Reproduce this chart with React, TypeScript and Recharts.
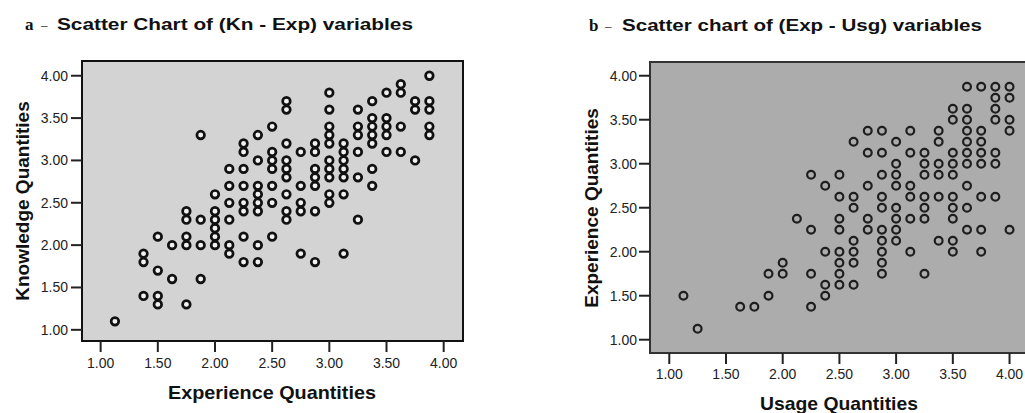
import React from 'react';
import { ScatterChart, Scatter, XAxis, YAxis, CartesianGrid, ReferenceArea } from 'recharts';

const axisTicks = [1, 1.5, 2, 2.5, 3, 3.5, 4];

// panel a: experience (x) -> knowledge values (y)
const expLevels = [1.125, 1.375, 1.5, 1.625, 1.75, 1.875, 2, 2.125, 2.25, 2.375, 2.5, 2.625, 2.75, 2.875, 3, 3.125, 3.25, 3.375, 3.5, 3.625, 3.75, 3.875];
const knowledgeAtExp = [
  [1.1],
  [1.9, 1.8, 1.4],
  [2.1, 1.7, 1.4, 1.3],
  [2.0, 1.6],
  [2.4, 2.3, 2.1, 2.0, 1.3],
  [3.3, 2.3, 2.0, 1.6],
  [2.6, 2.4, 2.3, 2.2, 2.1, 2.0],
  [2.9, 2.7, 2.5, 2.3, 2.0, 1.9],
  [3.2, 3.1, 2.9, 2.7, 2.5, 2.4, 2.1, 1.8],
  [3.3, 3.0, 2.7, 2.6, 2.5, 2.4, 2.0, 1.8],
  [3.4, 3.1, 3.0, 2.9, 2.7, 2.5, 2.1],
  [3.7, 3.6, 3.2, 3.0, 2.9, 2.8, 2.6, 2.4, 2.3],
  [3.1, 2.7, 2.5, 2.4, 1.9],
  [3.2, 3.1, 2.9, 2.8, 2.7, 2.4, 1.8],
  [3.8, 3.6, 3.4, 3.3, 3.2, 3.0, 2.9, 2.8, 2.6, 2.5],
  [3.2, 3.1, 3.0, 2.9, 2.8, 2.6, 1.9],
  [3.6, 3.4, 3.3, 3.1, 2.8, 2.3],
  [3.7, 3.5, 3.4, 3.3, 3.2, 2.9, 2.7],
  [3.8, 3.5, 3.4, 3.3, 3.1],
  [3.9, 3.8, 3.4, 3.1],
  [3.7, 3.6, 3.0],
  [4.0, 3.7, 3.6, 3.4, 3.3],
];

// panel b: usage (x) -> experience values (y)
const usageLevels = [1.125, 1.25, 1.625, 1.75, 1.875, 2, 2.125, 2.25, 2.375, 2.5, 2.625, 2.75, 2.875, 3, 3.125, 3.25, 3.375, 3.5, 3.625, 3.75, 3.875, 4];
const experienceAtUsage = [
  [1.5],
  [1.125],
  [1.375],
  [1.375],
  [1.75, 1.5],
  [1.875, 1.75],
  [2.375],
  [2.875, 2.25, 1.75, 1.375],
  [2.75, 2.0, 1.625, 1.5],
  [2.875, 2.625, 2.375, 2.25, 2.0, 1.875, 1.75, 1.625],
  [3.25, 2.625, 2.5, 2.125, 2.0, 1.875, 1.625],
  [3.375, 3.125, 2.75, 2.375, 2.25],
  [3.375, 3.125, 2.875, 2.625, 2.5, 2.25, 2.125, 2.0, 1.875, 1.75],
  [3.25, 3.0, 2.875, 2.75, 2.5, 2.375, 2.25, 2.125],
  [3.375, 3.125, 2.75, 2.625, 2.375, 2.0],
  [3.125, 3.0, 2.875, 2.625, 2.5, 2.375, 1.75],
  [3.375, 3.25, 3.0, 2.875, 2.625, 2.125],
  [3.625, 3.5, 3.125, 3.0, 2.875, 2.625, 2.5, 2.375, 2.125, 2.0],
  [3.875, 3.625, 3.5, 3.375, 3.25, 3.125, 3.0, 2.75, 2.5, 2.25],
  [3.875, 3.375, 3.25, 3.125, 3.0, 2.625, 2.25, 2.0],
  [3.875, 3.75, 3.625, 3.5, 3.125, 3.0, 2.625],
  [3.875, 3.75, 3.5, 3.375, 2.25],
];

const toPoints = (xs: number[], ys: number[][]) =>
  xs.flatMap((x, i) => ys[i].map((y) => ({ x, y })));

const sans = '"Liberation Sans", Arial, sans-serif';
const serif = '"Liberation Serif", "Times New Roman", serif';

interface PanelProps {
  data: { x: number; y: number }[];
  left: number;
  width: number;
  margin: { top: number; right: number; bottom: number; left: number };
  xDomain: [number, number];
  yDomain: [number, number];
  plotFill: string;
  frame: string;
  ring: { r: number; stroke: string; strokeWidth: number; fill: string };
  xTickMargin: number;
  yTickMargin: number;
}

function Panel({ data, left, width, margin, xDomain, yDomain, plotFill, frame, ring, xTickMargin, yTickMargin }: PanelProps) {
  const tick = { fontSize: 14, fill: '#222', fontFamily: sans };
  return (
    <div style={{ position: 'absolute', left, top: 0 }}>
      <ScatterChart width={width} height={413} margin={margin}>
        <CartesianGrid horizontal={false} vertical={false} fill={plotFill} fillOpacity={1} />
        <XAxis
          type="number"
          dataKey="x"
          domain={xDomain}
          ticks={axisTicks}
          interval={0}
          allowDataOverflow
          height={30}
          axisLine={false}
          tickSize={11}
          tickMargin={xTickMargin}
          tickLine={{ stroke: '#222', strokeWidth: 2 }}
          tick={tick}
          tickFormatter={(v: number) => v.toFixed(2)}
        />
        <YAxis
          type="number"
          dataKey="y"
          domain={yDomain}
          ticks={axisTicks}
          interval={0}
          allowDataOverflow
          width={60}
          axisLine={false}
          tickSize={11}
          tickMargin={yTickMargin}
          tickLine={{ stroke: '#222', strokeWidth: 2 }}
          tick={tick}
          tickFormatter={(v: number) => v.toFixed(2)}
        />
        <ReferenceArea
          x1={xDomain[0]}
          x2={xDomain[1]}
          y1={yDomain[0]}
          y2={yDomain[1]}
          fill="none"
          stroke={frame}
          strokeWidth={2}
        />
        <Scatter
          data={data}
          isAnimationActive={false}
          shape={(p: any) => (
            <circle cx={p.cx} cy={p.cy} r={ring.r} fill={ring.fill} stroke={ring.stroke} strokeWidth={ring.strokeWidth} />
          )}
        />
      </ScatterChart>
    </div>
  );
}

export default function App() {
  const axisTitle = { fontFamily: sans, fontWeight: 'bold', fontSize: 19, fill: '#111' } as const;
  return (
    <div style={{ position: 'absolute', left: 0, top: 0, width: 1025, height: 413, overflow: 'hidden', background: '#fff' }}>
      <Panel
        data={toPoints(expLevels, knowledgeAtExp)}
        left={0}
        width={470}
        margin={{ top: 61, right: 7, bottom: 42, left: 22 }}
        xDomain={[0.837, 4.169]}
        yDomain={[0.868, 4.174]}
        plotFill="#d3d3d3"
        frame="#111"
        ring={{ r: 3.8, stroke: '#111', strokeWidth: 2.7, fill: '#f2f2f2' }}
        xTickMargin={6}
        yTickMargin={3}
      />
      <Panel
        data={toPoints(usageLevels, experienceAtUsage)}
        left={520}
        width={510}
        margin={{ top: 62, right: 3, bottom: 30, left: 70 }}
        xDomain={[0.83, 4.154]}
        yDomain={[0.849, 4.156]}
        plotFill="#acacac"
        frame="#333"
        ring={{ r: 3.9, stroke: '#1e1e1e', strokeWidth: 2.2, fill: 'none' }}
        xTickMargin={5}
        yTickMargin={2}
      />
      <svg width={1025} height={413} style={{ position: 'absolute', left: 0, top: 0, pointerEvents: 'none' }}>
        <text x={25} y={30} fontFamily={serif} fontWeight="bold" fontSize={17} fill="#111">a</text>
        <text x={41} y={29} fontFamily={serif} fontSize={13} fill="#111">–</text>
        <text x={57} y={30} fontFamily={sans} fontWeight="bold" fontSize={16.5} fill="#111" textLength={356} lengthAdjust="spacingAndGlyphs">
          Scatter Chart of (Kn - Exp) variables
        </text>
        <text x={589} y={31} fontFamily={serif} fontWeight="bold" fontSize={17} fill="#111">b</text>
        <text x={605} y={30} fontFamily={serif} fontSize={13} fill="#111">–</text>
        <text x={622} y={31} fontFamily={sans} fontWeight="bold" fontSize={16.5} fill="#111" textLength={360} lengthAdjust="spacingAndGlyphs">
          Scatter chart of (Exp - Usg) variables
        </text>
        <text x={272} y={399} textAnchor="middle" {...axisTitle} textLength={208} lengthAdjust="spacingAndGlyphs">
          Experience Quantities
        </text>
        <text x={839} y={410} textAnchor="middle" {...axisTitle} textLength={158} lengthAdjust="spacingAndGlyphs">
          Usage Quantities
        </text>
        <text transform="translate(29,201) rotate(-90)" textAnchor="middle" {...axisTitle}>
          Knowledge Quantities
        </text>
        <text transform="translate(598,208) rotate(-90)" textAnchor="middle" {...axisTitle}>
          Experience Quantities
        </text>
      </svg>
    </div>
  );
}
